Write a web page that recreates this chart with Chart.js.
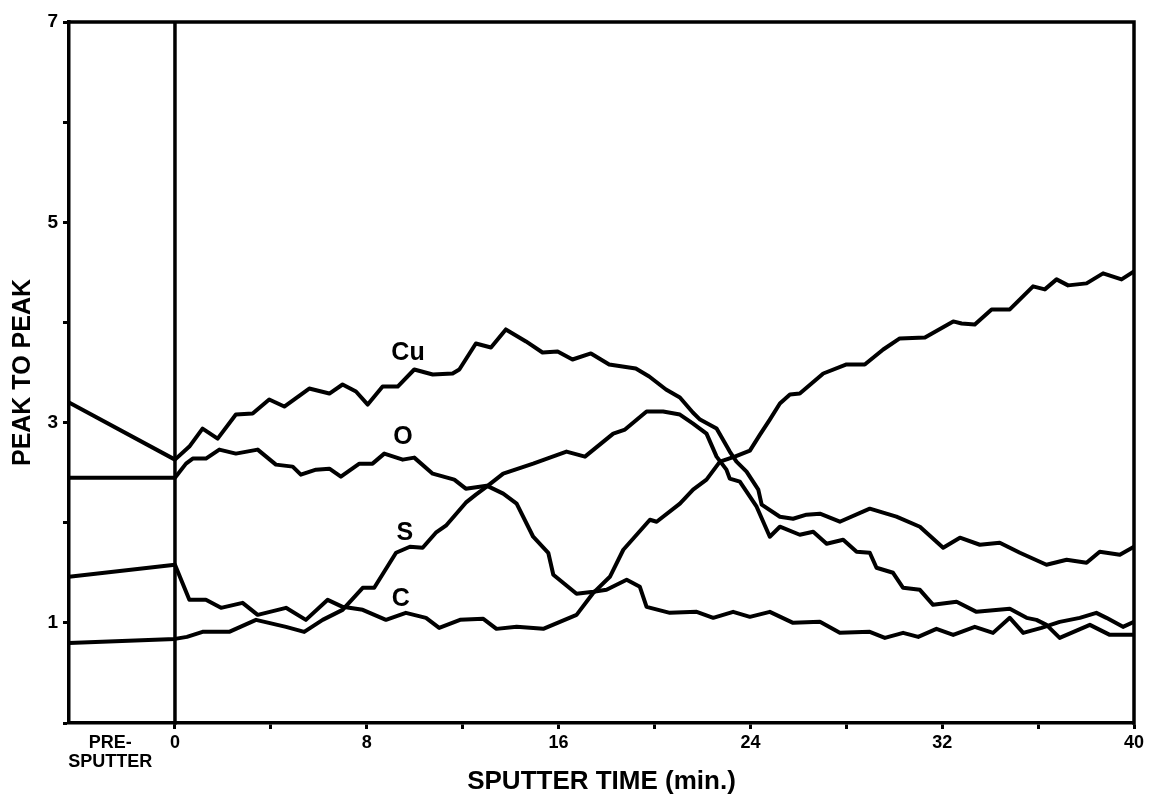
<!DOCTYPE html>
<html>
<head>
<meta charset="utf-8">
<script src="https://cdn.jsdelivr.net/npm/chart.js@4.4.1/dist/chart.umd.min.js"></script>
<style>
  html, body { margin: 0; padding: 0; background: #fff; }
  #wrap { width: 1151px; height: 797px; position: relative; }
</style>
</head>
<body>
<div id="wrap"><canvas id="c"></canvas></div>
<script>
// ---- data (time in min, presputter region < 0) ----
const seriesNames = ['Cu', 'O', 'S', 'C'];

const cuTime = [-4.42, 0, 0.6, 1.15, 1.78, 2.54, 3.24, 3.93, 4.56, 5.6, 6.44, 6.99, 7.55, 8.04, 8.66, 9.29, 9.98, 10.75, 11.58, 11.86, 12.55, 13.18, 13.8, 14.64, 15.33, 15.96, 16.58, 17.35, 18.11, 19.22, 19.78, 20.48, 21.06, 21.6, 21.9, 22.59, 23.14, 23.42, 23.84, 24.33, 24.47, 25.23, 25.78, 26.34, 26.9, 27.73, 28.98, 30.09, 31.07, 32.04, 32.74, 33.57, 34.4, 35.24, 36.35, 37.19, 38.02, 38.57, 39.41, 40];
const cuPeak = [3.2, 2.63, 2.76, 2.94, 2.84, 3.08, 3.09, 3.23, 3.16, 3.34, 3.29, 3.38, 3.31, 3.18, 3.36, 3.36, 3.53, 3.48, 3.49, 3.53, 3.79, 3.75, 3.93, 3.81, 3.70, 3.71, 3.63, 3.69, 3.58, 3.54, 3.46, 3.33, 3.25, 3.10, 3.03, 2.94, 2.71, 2.61, 2.51, 2.33, 2.18, 2.06, 2.04, 2.08, 2.09, 2.01, 2.14, 2.06, 1.96, 1.75, 1.85, 1.78, 1.80, 1.70, 1.58, 1.63, 1.60, 1.71, 1.68, 1.76];

const oTime = [-4.42, 0, 0.46, 0.74, 1.29, 1.85, 2.54, 3.45, 4.21, 4.91, 5.25, 5.88, 6.44, 6.92, 7.69, 8.24, 8.73, 9.5, 9.98, 10.75, 11.65, 12.13, 13.0, 13.69, 14.25, 14.94, 15.57, 15.78, 16.75, 17.45, 18.0, 18.84, 19.39, 19.67, 20.64, 21.76, 22.45, 23.28, 23.98, 24.81, 25.78, 26.9, 27.73, 28.98, 29.61, 30.37, 31.0, 31.76, 32.46, 33.36, 34.12, 34.82, 35.38, 36.14, 36.9, 37.74, 38.43, 38.85, 39.54, 40];
const oPeak = [2.45, 2.45, 2.59, 2.64, 2.64, 2.73, 2.69, 2.73, 2.58, 2.56, 2.48, 2.53, 2.54, 2.46, 2.59, 2.59, 2.69, 2.63, 2.65, 2.49, 2.43, 2.34, 2.37, 2.29, 2.19, 1.86, 1.70, 1.48, 1.29, 1.31, 1.33, 1.43, 1.36, 1.16, 1.10, 1.11, 1.05, 1.11, 1.06, 1.11, 1.00, 1.01, 0.90, 0.91, 0.85, 0.90, 0.86, 0.94, 0.88, 0.96, 0.90, 1.05, 0.90, 0.95, 1.01, 1.05, 1.10, 1.05, 0.96, 1.01];

const sTime = [-4.42, 0, 0.5, 1.15, 2.26, 3.38, 4.63, 5.39, 6.16, 6.99, 7.83, 8.31, 9.22, 9.8, 10.33, 10.88, 11.3, 12.13, 12.55, 13.0, 13.69, 14.94, 16.33, 17.1, 18.28, 18.77, 19.67, 20.36, 21.06, 21.61, 22.17, 22.59, 23.0, 23.14, 23.56, 24.26, 24.81, 25.23, 26.06, 26.62, 27.18, 27.87, 28.43, 28.98, 29.26, 29.95, 30.37, 31.07, 31.62, 32.6, 33.43, 34.82, 35.52, 35.93, 36.35, 36.9, 38.16, 38.99, 40];
const sPeak = [0.80, 0.84, 0.86, 0.91, 0.91, 1.03, 0.96, 0.91, 1.03, 1.13, 1.35, 1.35, 1.70, 1.76, 1.75, 1.90, 1.97, 2.20, 2.28, 2.36, 2.49, 2.59, 2.71, 2.66, 2.89, 2.93, 3.11, 3.11, 3.08, 2.99, 2.89, 2.66, 2.53, 2.44, 2.41, 2.16, 1.86, 1.96, 1.88, 1.91, 1.79, 1.83, 1.71, 1.70, 1.55, 1.50, 1.35, 1.33, 1.18, 1.21, 1.11, 1.14, 1.05, 1.03, 0.98, 0.85, 0.98, 0.88, 0.88];

const cTime = [-4.42, 0, 0.6, 1.29, 1.92, 2.82, 3.45, 4.63, 5.46, 6.37, 6.99, 7.83, 8.8, 9.63, 10.47, 11.02, 11.89, 12.86, 13.41, 14.25, 15.36, 16.75, 17.45, 18.14, 18.7, 19.81, 20.09, 21.06, 21.61, 22.17, 22.73, 23.35, 23.98, 24.4, 24.81, 25.23, 25.65, 26.06, 27.04, 28.01, 28.77, 29.54, 30.23, 31.28, 32.46, 32.81, 33.36, 34.06, 34.82, 35.79, 36.28, 36.77, 37.25, 38.02, 38.71, 39.48, 40];
const cPeak = [1.46, 1.58, 1.23, 1.23, 1.15, 1.20, 1.08, 1.15, 1.03, 1.23, 1.16, 1.13, 1.03, 1.10, 1.05, 0.95, 1.03, 1.04, 0.94, 0.96, 0.94, 1.08, 1.30, 1.46, 1.73, 2.03, 2.01, 2.19, 2.33, 2.43, 2.61, 2.66, 2.72, 2.88, 3.03, 3.19, 3.28, 3.29, 3.49, 3.58, 3.58, 3.73, 3.84, 3.85, 4.01, 3.99, 3.98, 4.13, 4.13, 4.36, 4.33, 4.43, 4.37, 4.39, 4.49, 4.43, 4.51];

// label anchors (in data units) for the element names
const labelTime = [9.72, 9.51, 9.59, 9.42];
const labelPeak = [3.69, 2.85, 1.90, 1.24];

// axis ticks
const xTickValues = [0, 4, 8, 12, 16, 20, 24, 28, 32, 36, 40];
const xLabeledEvery = 8;
const preSputterPos = -2.7;
const preSputterLabel = ['PRE-', 'SPUTTER'];
const xMin = -4.42, xMax = 40;
const yMin = 0, yMax = 7;
const yLabeled = [1, 3, 5, 7];

const zip = (t, v) => t.map((x, i) => ({ x: x, y: v[i] }));
const allSeries = [zip(cuTime, cuPeak), zip(oTime, oPeak), zip(sTime, sPeak), zip(cTime, cPeak)];

const FONT = '"Liberation Sans", Arial, sans-serif';

const framePlugin = {
  id: 'frame',
  afterDraw(chart) {
    const { ctx, chartArea: a, scales } = chart;
    const x = scales.x, y = scales.y;
    ctx.save();
    ctx.strokeStyle = '#000';
    ctx.lineWidth = 3.5;
    ctx.lineCap = 'square';
    ctx.beginPath();
    ctx.moveTo(a.left, a.top);
    ctx.lineTo(a.right, a.top);
    ctx.lineTo(a.right, a.bottom);
    const x0 = x.getPixelForValue(0);
    ctx.moveTo(x0, a.top);
    ctx.lineTo(x0, a.bottom);
    ctx.stroke();
    ctx.fillStyle = '#000';
    ctx.font = 'bold 25px ' + FONT;
    ctx.textAlign = 'center';
    ctx.textBaseline = 'middle';
    seriesNames.forEach((n, i) => {
      ctx.fillText(n, x.getPixelForValue(labelTime[i]), y.getPixelForValue(labelPeak[i]));
    });
    ctx.restore();
  }
};

new Chart(document.getElementById('c'), {
  type: 'line',
  data: {
    datasets: allSeries.map((d, i) => ({
      label: seriesNames[i],
      data: d,
      borderColor: '#000',
      backgroundColor: '#000',
      borderWidth: 4,
      pointRadius: 0,
      tension: 0,
      fill: false,
      borderJoinStyle: 'round',
      borderCapStyle: 'round'
    }))
  },
  options: {
    responsive: true,
    maintainAspectRatio: false,
    animation: false,
    devicePixelRatio: 1,
    layout: { padding: { left: 0, right: 17, top: 22, bottom: 0 } },
    plugins: { legend: { display: false }, tooltip: { enabled: false } },
    scales: {
      x: {
        type: 'linear',
        min: xMin,
        max: xMax,
        afterBuildTicks: (s) => {
          s.ticks = [preSputterPos].concat(xTickValues).map(v => ({ value: v }));
        },
        afterFit: (s) => { s.height = 74; },
        grid: {
          drawOnChartArea: false,
          drawTicks: true,
          tickLength: 6,
          tickWidth: 3,
          tickColor: (ctx) => (ctx.tick && ctx.tick.value === preSputterPos) ? 'rgba(0,0,0,0)' : '#000'
        },
        border: { display: true, color: '#000', width: 3.5 },
        ticks: {
          autoSkip: false,
          maxRotation: 0,
          padding: 5,
          color: '#000',
          font: { family: FONT, size: 18, weight: 'bold', lineHeight: 1.05 },
          callback: (v) => {
            if (v === preSputterPos) return preSputterLabel;
            return (v % xLabeledEvery === 0) ? String(v) : '';
          }
        },
        title: {
          display: true,
          text: 'SPUTTER TIME (min.)',
          color: '#000',
          font: { family: FONT, size: 26, weight: 'bold' },
          padding: { top: 0, bottom: 0 }
        }
      },
      y: {
        type: 'linear',
        min: yMin,
        max: yMax,
        afterFit: (s) => { s.width = 69; },
        grid: {
          drawOnChartArea: false,
          drawTicks: true,
          tickLength: 6,
          tickWidth: 3,
          tickColor: '#000'
        },
        border: { display: true, color: '#000', width: 3.5 },
        ticks: {
          stepSize: 1,
          autoSkip: false,
          padding: 5,
          color: '#000',
          font: { family: FONT, size: 19, weight: 'bold' },
          callback: (v) => yLabeled.includes(v) ? String(v) : ''
        },
        title: {
          display: true,
          text: 'PEAK TO PEAK',
          color: '#000',
          font: { family: FONT, size: 25, weight: 'bold' },
          padding: { top: 8, bottom: 0 }
        }
      }
    }
  },
  plugins: [framePlugin]
});
</script>
</body>
</html>
